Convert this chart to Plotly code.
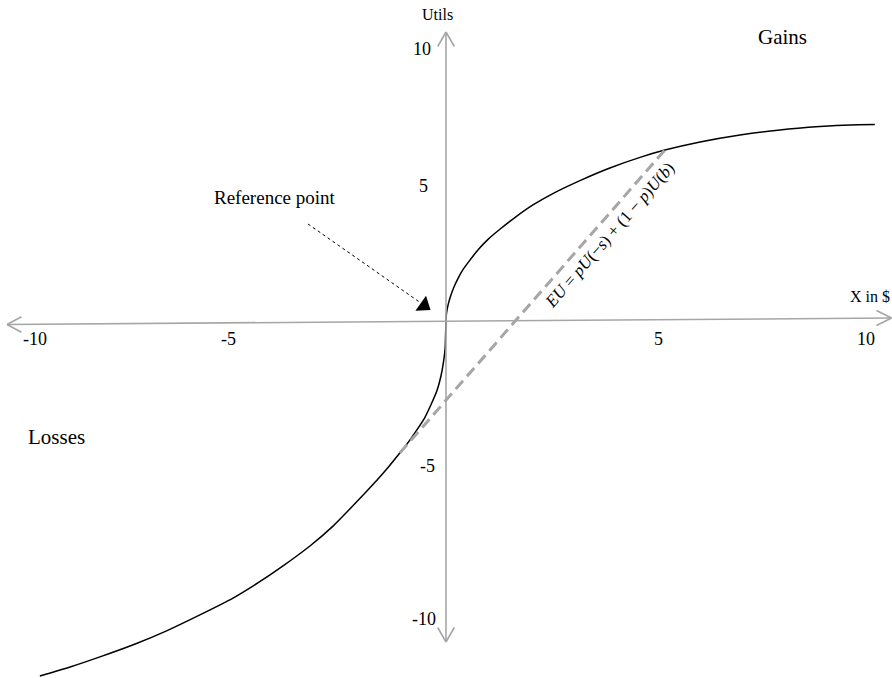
import plotly.graph_objects as go

# ---------------- data (x in $, utility in utils) ----------------
gain_x = [0, 0.01, 0.05, 0.11, 0.19, 0.29, 0.40, 0.57, 0.76, 1.00, 1.29, 1.64, 2.07,
          2.60, 3.19, 3.90, 4.62, 5.21, 6.05, 7.00, 7.95, 8.90, 9.62, 10.21]
gain_u = [0, 0.29, 0.61, 0.93, 1.25, 1.57, 1.86, 2.21, 2.57, 2.95, 3.32, 3.73, 4.18,
          4.63, 5.05, 5.50, 5.88, 6.14, 6.43, 6.68, 6.86, 6.98, 7.04, 7.05]
loss_x = [-9.67, -8.95, -8.24, -7.40, -6.64, -5.86, -5.07, -4.48, -3.88, -3.24, -2.69,
          -2.29, -1.95, -1.64, -1.36, -1.10, -0.90, -0.71, -0.51, -0.35, -0.21, -0.12,
          -0.06, -0.02, -0.01, 0]
loss_u = [-12.64, -12.32, -11.96, -11.50, -11.02, -10.46, -9.86, -9.32, -8.71, -8.00, -7.29,
          -6.68, -6.14, -5.64, -5.16, -4.68, -4.30, -3.89, -3.43, -2.93, -2.43, -1.93,
          -1.43, -0.93, -0.46, 0]

# chord end points: a loss of s and a gain of b (both on the value curve)
s_loss = -1.10
b_gain = 5.21

xtick_vals = [-10, -5, 5, 10]
xtick_text = ["-10", "-5", "5", "10"]
ytick_vals = [10, 5, -5, -10]
ytick_text = ["10", "5", "-5", "-10"]

# ---------------- layout helpers (pixel -> data, for decorations) ----------------
SX, SY = 42.0, 28.0      # pixels per unit
OX, OY = 446.0, 322.0    # pixel position of the origin
W, H = 892, 678

# small pixel nudges of the hand-placed tick labels in the source drawing
xtick_nudge = [9, -8, 2, 0]
ytick_nudge_x = [-13, -16, -9, -8]
ytick_nudge_y = [-7, -4, -4, -17]


def px(x):
    return (x - OX) / SX


def py(y):
    return (OY - y) / SY


FONT = "Liberation Serif"
AX_COL = "#a6a6a6"

fig = go.Figure()

# value curve
curve_x = loss_x + gain_x[1:]
curve_u = loss_u + gain_u[1:]
fig.add_trace(go.Scatter(x=curve_x, y=curve_u, mode="lines",
                         line=dict(color="black", width=1.5, shape="spline", smoothing=0.5),
                         hoverinfo="skip"))

# expected-utility chord
i_s = loss_x.index(s_loss)
i_b = gain_x.index(b_gain)
fig.add_trace(go.Scatter(x=[loss_x[i_s], gain_x[i_b]],
                         y=[loss_u[i_s], gain_u[i_b]], mode="lines",
                         line=dict(color="#a6a6a6", width=3, dash="11px,6px"),
                         hoverinfo="skip"))

# reference-point pointer (dotted line + filled triangle head)
fig.add_trace(go.Scatter(x=[px(308), px(423)], y=[py(224), py(304.5)], mode="lines",
                         line=dict(color="black", width=1, dash="dot"), hoverinfo="skip"))
fig.add_trace(go.Scatter(x=[px(424)], y=[py(305.5)], mode="markers",
                         marker=dict(symbol="triangle-up", size=16, color="black", angle=125),
                         hoverinfo="skip"))

shapes = []


def seg(x0, y0, x1, y1):
    shapes.append(dict(type="line", xref="x", yref="y", x0=x0, y0=y0, x1=x1, y1=y1,
                       line=dict(color=AX_COL, width=1.6)))


# x axis (slightly tilted as in the source drawing)
seg(px(7), py(324.5), px(891.5), py(318))
seg(px(7), py(324.5), px(21.5), py(316.8))
seg(px(7), py(324.5), px(21.5), py(332.2))
seg(px(891.5), py(318), px(876.5), py(310.5))
seg(px(891.5), py(318), px(876.5), py(325.5))
# y axis
seg(0, py(32), 0, py(642))
seg(0, py(32), px(OX - 8.3), py(46.5))
seg(0, py(32), px(OX + 8.3), py(46.5))
seg(0, py(642), px(OX - 8.3), py(627.5))
seg(0, py(642), px(OX + 8.3), py(627.5))

annotations = []


def txt(x, y, s, size, **kw):
    d = dict(x=x, y=y, xref="x", yref="y", text=s, showarrow=False,
             font=dict(family=FONT, size=size, color="black"),
             xanchor="center", yanchor="middle")
    d.update(kw)
    annotations.append(d)


for v, t, n in zip(xtick_vals, xtick_text, xtick_nudge):
    txt(v, 0, t, 18, yshift=-17, xshift=n)
for v, t, nx, ny in zip(ytick_vals, ytick_text, ytick_nudge_x, ytick_nudge_y):
    txt(0, v, t, 18, xanchor="right", xshift=nx, yshift=ny)

txt(px(437), py(14), "Utils", 16)
txt(px(869.5), py(296), "X in $", 16)
txt(px(782), py(37), "Gains", 21)
txt(px(56), py(437), "Losses", 21)
txt(px(274.5), py(197), "Reference point", 19)
txt(px(609), py(235), "<i>EU</i> = <i>pU</i>(−<i>s</i>) + (1 − <i>p</i>)<i>U</i>(<i>b</i>)", 17,
    textangle=-48.8)

fig.update_layout(
    width=W, height=H,
    margin=dict(l=0, r=0, t=0, b=0),
    paper_bgcolor="white", plot_bgcolor="white",
    showlegend=False,
    xaxis=dict(visible=False, range=[px(0), px(W)], fixedrange=True),
    yaxis=dict(visible=False, range=[py(H), py(0)], fixedrange=True),
    shapes=shapes,
    annotations=annotations,
)

fig.write_html("out.html", config={"displayModeBar": False},
               post_script="document.body.style.margin='0';")
